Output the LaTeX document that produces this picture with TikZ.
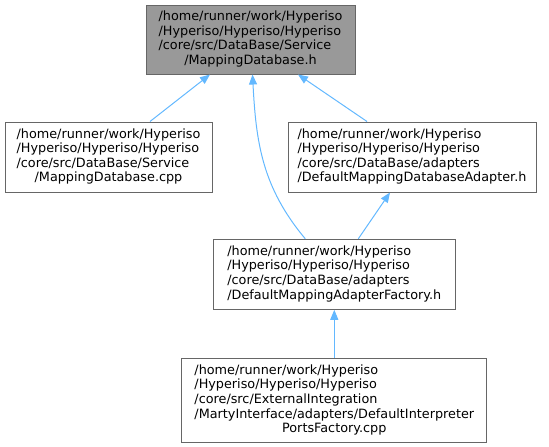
\documentclass[tikz,border=0pt]{standalone}
\usepackage{fontspec}
\setmainfont{DejaVu Sans}
\usepackage{tikz}
\usetikzlibrary{positioning}
\usetikzlibrary{arrows.meta}
\definecolor{linkblue}{HTML}{63B8FF}
\newcommand{\pathlines}[2]{\begin{tabular}{@{}l@{}}#1\\\multicolumn{1}{@{}c@{}}{#2}\end{tabular}}

\begin{document}
\begin{tikzpicture}[x=1pt, y=1pt, node distance={48pt},
  file/.style = {draw=black!60, line width=1pt, fill=white, rectangle, inner sep=0pt, font=\fontsize{12.8}{14.6}\selectfont},
  here/.style = {file, fill=black!40},
  edge/.style = {draw=linkblue, line width=1pt, -{Triangle[length=10pt, width=8pt]}}]
            \useasboundingbox (0,0) rectangle (549,-447);
            % Nodes
            \node[here, minimum width=209pt, minimum height=69pt] (h) at (250.5,-39.5) {\pathlines{/home/runner/work/Hyperiso\\/Hyperiso/Hyperiso/Hyperiso\\/core/src/DataBase/Service}{/MappingDatabase.h}};
            \node[file, minimum width=207pt, minimum height=70pt] (cpp) at (108.5,-157) {\pathlines{/home/runner/work/Hyperiso\\/Hyperiso/Hyperiso/Hyperiso\\/core/src/DataBase/Service}{/MappingDatabase.cpp}};
            \node[file, minimum width=248pt, minimum height=70pt] (adapter) at (412,-157) {\pathlines{/home/runner/work/Hyperiso\\/Hyperiso/Hyperiso/Hyperiso\\/core/src/DataBase/adapters}{/DefaultMappingDatabaseAdapter.h}};
            \node[file, minimum width=242pt, minimum height=70pt] (factory) at (334.3,-274.3) {\pathlines{/home/runner/work/Hyperiso\\/Hyperiso/Hyperiso/Hyperiso\\/core/src/DataBase/adapters}{/DefaultMappingAdapterFactory.h}};
            \node[file, minimum width=305pt, minimum height=84.5pt] (ports) [below=of factory] {\pathlines{/home/runner/work/Hyperiso\\/Hyperiso/Hyperiso/Hyperiso\\/core/src/ExternalIntegration\\/MartyInterface/adapters/DefaultInterpreter}{PortsFactory.cpp}};
            % Edges
            \draw[edge] ([xshift=41.5pt]cpp.north) -- ([xshift=-40.5pt]h.south);
            \draw[edge] ([xshift=-29pt]factory.north) to[out=130, in=-87] ([xshift=2pt]h.south);
            \draw[edge] ([xshift=-45pt]adapter.north) -- ([xshift=47.5pt]h.south);
            \draw[edge] ([xshift=24pt]factory.north) -- ([xshift=-22pt]adapter.south);
            \draw[edge] (ports) -- (factory);
            \end{tikzpicture}
\end{document}
